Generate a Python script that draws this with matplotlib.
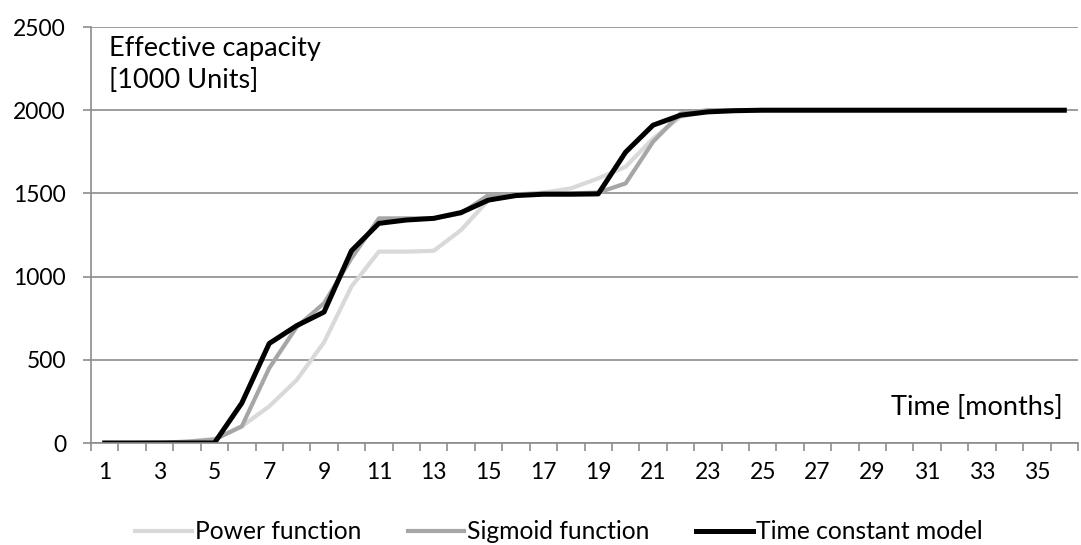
import matplotlib.pyplot as plt
from matplotlib.ticker import FixedLocator

months = list(range(1, 37))
power_fn = [0, 0, 1, 8, 25, 100, 220, 378, 605, 940, 1150, 1150, 1155, 1280, 1460,
            1490, 1505, 1530, 1590, 1660, 1830, 1960, 1995, 2000] + [2000] * 12
sigmoid_fn = [0, 0, 2, 8, 20, 100, 450, 697, 840, 1110, 1350, 1350, 1350, 1380, 1490,
              1495, 1500, 1500, 1505, 1560, 1810, 1980, 2000, 2000] + [2000] * 12
time_const = [0, 0, 0, 0, 0, 240, 598, 705, 787, 1155, 1320, 1340, 1350, 1385, 1460,
              1487, 1495, 1495, 1497, 1748, 1910, 1970, 1990, 1997] + [2000] * 12
y_ticks = [0, 500, 1000, 1500, 2000, 2500]

plt.rcParams['font.family'] = ['Lato', 'DejaVu Sans']
fig = plt.figure(figsize=(10.81, 5.45), dpi=100)
ax = fig.add_axes([91 / 1081, 102 / 545, (1078 - 91) / 1081, (443 - 27) / 545])

ax.plot(months, power_fn, color='#d9d9d9', lw=3, label='Power function', solid_joinstyle='round')
ax.plot(months, sigmoid_fn, color='#a6a6a6', lw=3, label='Sigmoid function', solid_joinstyle='round')
ax.plot(months, time_const, color='black', lw=3.6, label='Time constant model', solid_joinstyle='round')

ax.set_xlim(0.5, 36.5)
ax.set_ylim(0, 2500)
ax.set_yticks(y_ticks)
ax.grid(axis='y', color='#8c8c8c', lw=1.2)
ax.set_axisbelow(True)

# ticks at category boundaries, labels on odd months
ax.xaxis.set_major_locator(FixedLocator([m + 0.5 for m in range(0, 37)]))
ax.xaxis.set_major_formatter(plt.NullFormatter())
ax.xaxis.set_minor_locator(FixedLocator(months[::2]))
ax.set_xticklabels([str(m) for m in months[::2]], minor=True)
ax.tick_params(axis='x', which='major', length=5.5, color='#8c8c8c', width=1.2, direction='out')
ax.tick_params(axis='x', which='minor', length=0, labelsize=16.5, pad=14)
ax.tick_params(axis='y', length=6, color='#8c8c8c', width=1.2, labelsize=16.5, pad=12)

for s in ['top', 'right']:
    ax.spines[s].set_visible(False)
for s in ['left', 'bottom']:
    ax.spines[s].set_color('#8c8c8c')
    ax.spines[s].set_linewidth(1.2)

fig.text(109 / 1081, 1 - 36 / 545, 'Effective capacity\n[1000 Units]',
         fontsize=19.5, va='top', ha='left', linespacing=1.35)
fig.text(1063 / 1081, 1 - 420 / 545, 'Time [months]',
         fontsize=19.5, va='bottom', ha='right')

fig.legend(loc='center', bbox_to_anchor=(0.517, 0.024), ncol=3, frameon=False,
           fontsize=17.7, handlelength=2.3, handletextpad=0.12, columnspacing=1.9)

fig.savefig('out.png', dpi=100)
